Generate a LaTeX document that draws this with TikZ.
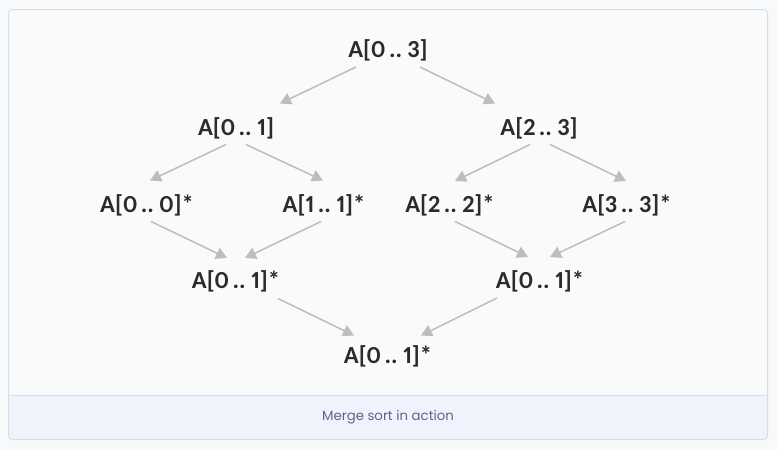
\documentclass[tikz,border=0pt]{standalone}
\usepackage{fontspec}
\newfontfamily\lblfont{Carlito}[WordSpace=0.65, Numbers=Proportional]
\newfontfamily\capfont{Poppins}
\usetikzlibrary{arrows.meta}
\definecolor{pagebg}{HTML}{F8F9FB}
\definecolor{panelbg}{HTML}{F9FAFB}
\definecolor{framecol}{HTML}{D8DDE6}
\definecolor{bandbg}{HTML}{EFF3FC}
\definecolor{arrowgray}{HTML}{BDBDBD}
\definecolor{textcol}{HTML}{2B2B2E}
\definecolor{capcol}{HTML}{62628C}
\tikzset{
  lbl/.style={anchor=base, inner sep=0pt, text=textcol, font=\lblfont\fontsize{24.5}{28}\selectfont\bfseries},
  arr/.style={draw=arrowgray, line width=1.5pt, -{Triangle[length=11pt,width=12pt]}},
  caption/.style={inner sep=0pt, text=capcol, font=\capfont\fontsize{13.3}{16}\selectfont}
}
\begin{document}
\begin{tikzpicture}[x=1pt,y=-1pt]
\useasboundingbox (0,0) rectangle (778,450);
\fill[pagebg] (0,0) rectangle (778,450);
\fill[panelbg, rounded corners=4pt] (8.5,9.5) rectangle (767.5,439.5);
\begin{scope}
  \clip[rounded corners=4pt] (8.5,9.5) rectangle (767.5,439.5);
  \fill[bandbg] (8.5,395.5) rectangle (767.5,439.5);
\end{scope}
\draw[framecol, line width=1pt] (8.5,395.5) -- (767.5,395.5);
\draw[framecol, line width=1pt, rounded corners=4pt] (8.5,9.5) rectangle (767.5,439.5);

\node[lbl] (r)  at (388,57.5) {A[0 .. 3]};
\node[lbl] (l1) at (236,135) {A[0 .. 1]};
\node[lbl] (r1) at (539,135) {A[2 .. 3]};
\node[lbl] (a)  at (147,212) {A[0 .. 0]*};
\node[lbl] (b)  at (324,212) {A[1 .. 1]*};
\node[lbl] (c)  at (450,212) {A[2 .. 2]*};
\node[lbl] (d)  at (627,212) {A[3 .. 3]*};
\node[lbl] (m1) at (236,288) {A[0 .. 1]*};
\node[lbl] (m2) at (540,288.5) {A[0 .. 1]*};
\node[lbl] (f)  at (388,363) {A[0 .. 1]*};

\node[caption] (cap) at (388,417) {Merge sort in action};

\draw[arr] ([shift={(-32,9.5)}]r.base) -- ([shift={(44,-31.5)}]l1.base);
\draw[arr] ([shift={(32,9.5)}]r.base) -- ([shift={(-44,-31.5)}]r1.base);
\draw[arr] ([shift={(-10,9.5)}]l1.base) -- ([shift={(3,-31.5)}]a.base);
\draw[arr] ([shift={(10,9.5)}]l1.base) -- ([shift={(-1,-31.5)}]b.base);
\draw[arr] ([shift={(-9,9.5)}]r1.base) -- ([shift={(5,-31)}]c.base);
\draw[arr] ([shift={(11,9.5)}]r1.base) -- ([shift={(-1,-31)}]d.base);
\draw[arr] ([shift={(4,9.5)}]a.base) -- ([shift={(-9,-30)}]m1.base);
\draw[arr] ([shift={(-3,9.5)}]b.base) -- ([shift={(9,-30)}]m1.base);
\draw[arr] ([shift={(5,9.5)}]c.base) -- ([shift={(-12,-31.5)}]m2.base);
\draw[arr] ([shift={(-2,9.5)}]d.base) -- ([shift={(10,-31.5)}]m2.base);
\draw[arr] ([shift={(42,10.5)}]m1.base) -- ([shift={(-34,-27.5)}]f.base);
\draw[arr] ([shift={(-43,9.5)}]m2.base) -- ([shift={(33,-27.5)}]f.base);
\end{tikzpicture}
\end{document}
